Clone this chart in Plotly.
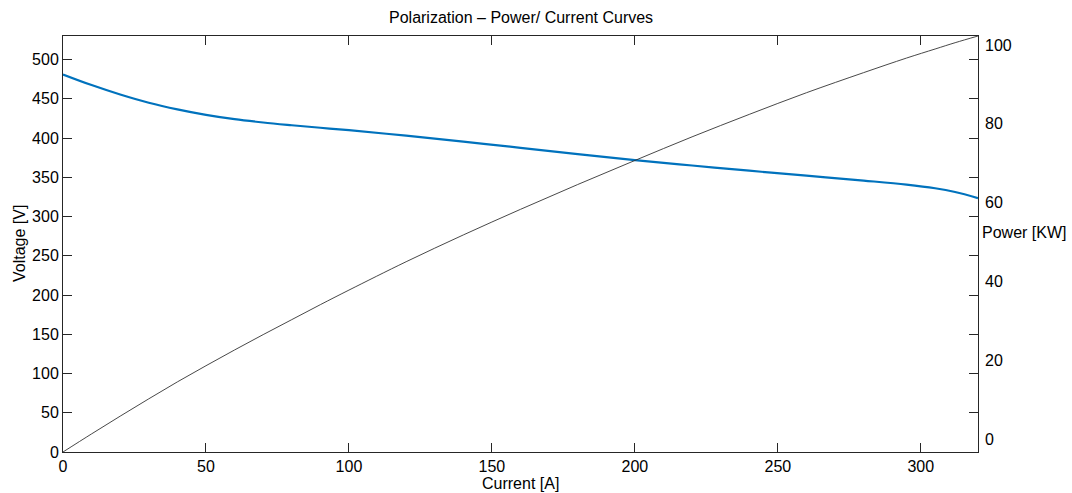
import plotly.graph_objects as go

# Data
current_a = [0, 10, 20, 30, 40, 50, 60, 70, 80, 90, 100, 120, 140, 160, 180,
             200, 220, 240, 260, 280, 295, 305, 312, 320]
voltage_v = [481, 467.5, 455.5, 445, 436.5, 429.5, 424, 419.8, 416.3, 413.1, 410,
             403, 395.5, 387.5, 379.5, 371.8, 365, 358.4, 352, 345.8, 340.7,
             336, 331.2, 323.5]
power_kw = [0, 4.6, 9.1, 13.5, 17.8, 21.9, 25.9, 29.8, 33.6, 37.4, 41.1, 48.3,
            55.1, 61.6, 67.9, 74.0, 80.0, 85.7, 91.2, 96.3, 100.0, 102.3, 103.9, 105.6]

x_ticks = [0, 50, 100, 150, 200, 250, 300]
v_ticks = [0, 50, 100, 150, 200, 250, 300, 350, 400, 450, 500]
p_ticks = [0, 20, 40, 60, 80, 100]

FONT = "Liberation Sans, Arial, Helvetica, sans-serif"
AX = "#262626"

fig = go.Figure()
fig.add_trace(go.Scatter(x=current_a, y=voltage_v, mode="lines",
                         line=dict(color="#0072BD", width=2.2, shape="spline", smoothing=1.0),
                         yaxis="y", showlegend=False))
fig.add_trace(go.Scatter(x=current_a, y=power_kw, mode="lines",
                         line=dict(color="#333333", width=0.9, shape="spline", smoothing=1.0),
                         yaxis="y2", showlegend=False))

fig.update_layout(
    width=1072, height=493, autosize=False,
    margin=dict(l=63, r=94, t=36, b=41),
    paper_bgcolor="white", plot_bgcolor="white",
    font=dict(family=FONT, size=16, color="black"),
    xaxis=dict(range=[0, 320], tickvals=x_ticks, ticks="inside", ticklen=9,
               tickcolor=AX, showline=True, linecolor=AX, linewidth=1,
               mirror="ticks", showgrid=False, zeroline=False,
               tickfont=dict(size=16)),
    yaxis=dict(range=[0, 530], tickvals=v_ticks, ticks="inside", ticklen=9,
               tickcolor=AX, showline=True, linecolor=AX, linewidth=1,
               mirror="ticks", showgrid=False, zeroline=False,
               tickfont=dict(size=16)),
    yaxis2=dict(range=[0, 105.6], tickvals=p_ticks, overlaying="y", side="right",
                ticks="", showline=False, showgrid=False, zeroline=False,
                ticklabelshift=-13, ticklabelstandoff=6, tickfont=dict(size=16)),
    annotations=[
        dict(text="Polarization \u2013 Power/ Current Curves", x=0.5, y=1,
             xref="paper", yref="paper", showarrow=False, font=dict(size=16),
             xanchor="center", yanchor="bottom", yshift=8),
        dict(text="Current [A]", x=0.5, y=0, xref="paper", yref="paper",
             showarrow=False, xanchor="center", yanchor="middle", yshift=-31,
             font=dict(size=16)),
        dict(text="Voltage [V]", x=0, y=0.5, xref="paper", yref="paper",
             showarrow=False, textangle=-90, xanchor="center", yanchor="middle",
             xshift=-44, font=dict(size=16)),
        dict(text="Power [KW]", x=1, y=0.5, xref="paper", yref="paper",
             showarrow=False, xanchor="left", yanchor="middle", xshift=2,
             yshift=12, font=dict(size=16)),
    ],
)

fig.write_html("out.html")
